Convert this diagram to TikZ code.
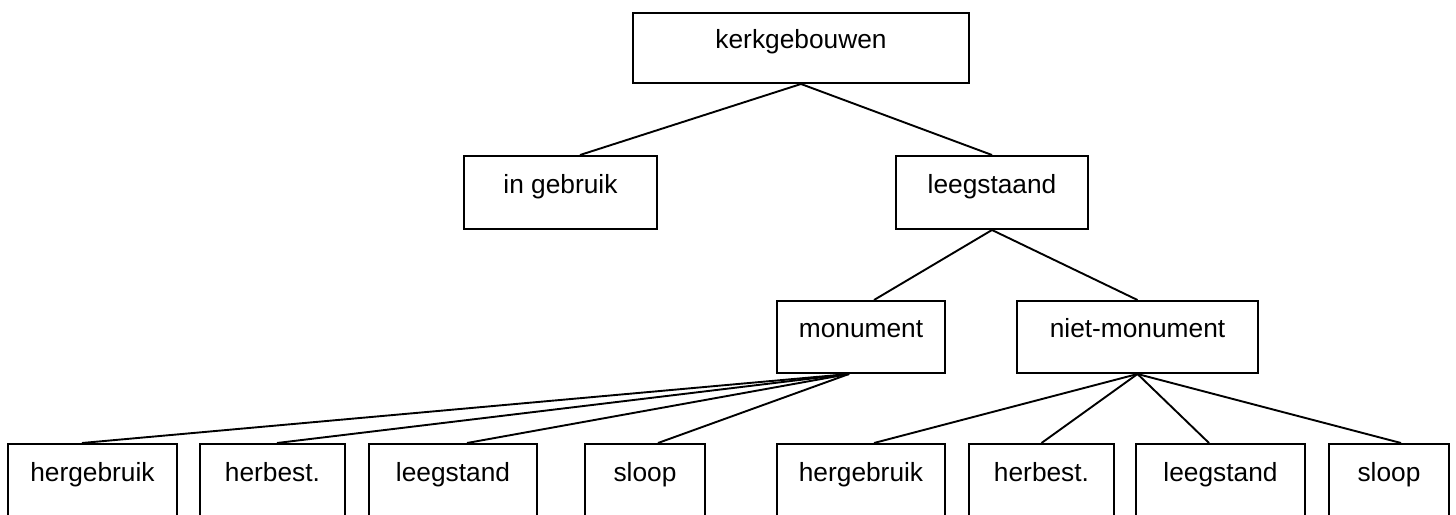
\documentclass[tikz,border=0pt]{standalone}
\usepackage{fontspec}
\setmainfont{Liberation Sans}
\begin{document}
\begin{tikzpicture}[x=1pt,y=-1pt,
  box/.style={draw, line width=2pt, rectangle, inner sep=0pt,
    minimum height=#1, text height=18.5pt, text depth=17pt,
    font=\fontsize{26.3}{30}\selectfont},
  box/.default=73pt,
  conn/.style={line width=1.9pt}]
\useasboundingbox (0,0) rectangle (1456,514);
\node[box=70pt, minimum width=336pt] (top) at (801,48) {kerkgebouwen};
\node[box, minimum width=193pt] (ig) at (560.5,192.5) {in gebruik};
\node[box, minimum width=192pt] (lg) at (992,192.5) {leegstaand};
\node[box=72pt, minimum width=168pt] (mon) at (861,337) {monument};
\node[box=72pt, minimum width=241pt] (nm) at (1137.5,337) {niet-monument};
\node[box, minimum width=169pt] (b1) at (92.5,480.5) {hergebruik};
\node[box, minimum width=145pt] (b2) at (272.5,480.5) {herbest.};
\node[box, minimum width=168pt] (b3) at (453,480.5) {leegstand};
\node[box, minimum width=120pt] (b4) at (645,480.5) {sloop};
\node[box, minimum width=168pt] (b5) at (861,480.5) {hergebruik};
\node[box, minimum width=145pt] (b6) at (1041.5,480.5) {herbest.};
\node[box, minimum width=169pt] (b7) at (1220.5,480.5) {leegstand};
\node[box, minimum width=120pt] (b8) at (1389,480.5) {sloop};
\draw[conn] (top.south) -- ([xshift=19.5pt]ig.north);
\draw[conn] (top.south) -- (lg.north);
\draw[conn] (lg.south) -- ([xshift=13pt]mon.north);
\draw[conn] (lg.south) -- (nm.north);
\draw[conn] ([xshift=-12pt]mon.south) -- ([xshift=-10.5pt]b1.north);
\draw[conn] ([xshift=-12pt]mon.south) -- ([xshift=4.5pt]b2.north);
\draw[conn] ([xshift=-12pt]mon.south) -- ([xshift=14pt]b3.north);
\draw[conn] ([xshift=-12pt]mon.south) -- ([xshift=13pt]b4.north);
\draw[conn] (nm.south) -- ([xshift=13pt]b5.north);
\draw[conn] (nm.south) -- (b6.north);
\draw[conn] (nm.south) -- ([xshift=-11.5pt]b7.north);
\draw[conn] (nm.south) -- ([xshift=12pt]b8.north);
\end{tikzpicture}
\end{document}
